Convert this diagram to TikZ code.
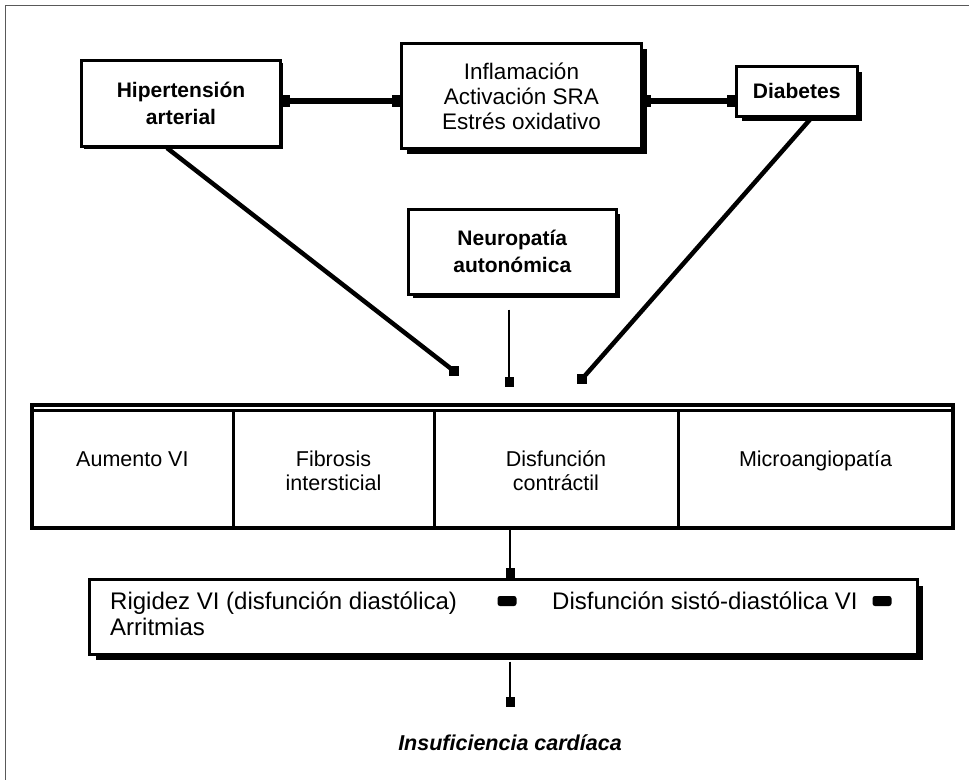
\documentclass[tikz,border=0pt]{standalone}
\usepackage{fontspec}
\setmainfont{Liberation Sans}
\usetikzlibrary{arrows.meta,shadows}

\begin{document}
\begin{tikzpicture}[x=1pt,y=-1pt,
  txt/.style={font={\fontsize{22.5}{25}\selectfont}},
  txtb/.style={font={\fontsize{21}{27}\selectfont\bfseries}},
  txtc/.style={font={\fontsize{21.5}{24}\selectfont}, align=center, anchor=base},
  txtr/.style={font={\fontsize{24}{26}\selectfont}, anchor=base west, inner sep=0pt},
  txtbi/.style={font={\fontsize{21.5}{24}\selectfont\bfseries\itshape}},
  caja/.style={draw, line width=3pt, fill=white, align=center, inner sep=0pt},
  sombra/.style={drop shadow={shadow xshift=#1, shadow yshift=-#1, opacity=1, fill=black}},
  celda/.style={inner sep=0pt},
  blob/.style={fill=black, minimum width=19pt, minimum height=10pt, inner sep=0pt, rounded corners=2.5pt},
  punta/.style={fill=black, minimum size=10pt, inner sep=0pt},
  enlace/.style={line width=6pt, {Square[length=8pt,width=12pt]}-{Square[length=8pt,width=12pt]}},
  diagonal/.style={line width=4.5pt},
  flecha/.style={line width=2.5pt, -{Square[length=10pt,width=9pt]}},
  marco/.style={draw=black!65, line width=1.5pt}
]
\useasboundingbox (0,0) rectangle (969,780);

% page frame (top and left edges)
\draw[marco] (969,5.5) -- (5.5,5.5) -- (5.5,780);

% causes
\node[caja, txtb, sombra=2.5pt, minimum width=199pt, minimum height=86pt] (hip) at (181,103.5) {Hipertensión\\arterial};
\node[caja, txt, sombra=5pt, minimum width=240pt, minimum height=105pt] (infl) at (521.5,96) {Inflamación\\Activación SRA\\Estrés oxidativo};
\node[caja, txtb, sombra=5pt, minimum width=120.5pt, minimum height=49.5pt] (diab) at (796.75,91.25) {Diabetes};
\node[caja, txtb, sombra=4pt, minimum width=207.5pt, minimum height=84.5pt] (neuro) at (512.25,251.75) {Neuropatía\\autonómica};

\coordinate (nivel) at (0,101);
\draw[enlace] (hip.east |- nivel) -- (infl.west |- nivel);
\draw[enlace] (infl.east |- nivel) -- (diab.west |- nivel);

% myocardial changes table
\node[draw, line width=3.5pt, minimum width=921.25pt, minimum height=123.25pt, inner sep=0pt] (tabla) at (492.375,466.375) {};
\node[celda, minimum width=201.25pt, minimum height=117pt] (c1) at (132.375,469.5) {};
\node[celda, minimum width=201pt, minimum height=117pt] (c2) at (333.5,469.5) {};
\node[celda, minimum width=244pt, minimum height=117pt] (c3) at (556,469.5) {};
\node[celda, minimum width=275pt, minimum height=117pt] (c4) at (815.5,469.5) {};
\draw[line width=3pt] (tabla.west |- c1.north) -- (tabla.east |- c1.north);
\draw[line width=3pt] (c1.north east) -- (c1.south east);
\draw[line width=3pt] (c2.north east) -- (c2.south east);
\draw[line width=3pt] (c3.north east) -- (c3.south east);

\node[txtc] (t1) at ([yshift=-56pt]c1.north) {Aumento VI};
\node[txtc] (t2) at ([yshift=-80pt]c2.north) {Fibrosis\\intersticial};
\node[txtc] (t3) at ([yshift=-80pt]c3.north) {Disfunción\\contráctil};
\node[txtc] (t4) at ([yshift=-56pt]c4.north) {Microangiopatía};

% arrows into the table
\node[punta] (p1) at (454,371) {};
\node[punta] (p3) at (582,379) {};
\coordinate (p2) at (509,387);
\draw[diagonal] ([xshift=-14pt]hip.south) -- (p1.center);
\draw[diagonal] ([xshift=15pt]diab.south) -- (p3.center);
\draw[flecha, shorten <=14pt] (neuro.south -| p2) -- (p2);

% consequences
\node[draw, line width=3pt, fill=white, sombra=6pt, minimum width=827.5pt, minimum height=74.5pt, inner sep=0pt] (efectos) at (503.25,616.75) {};
\node[txtr] (r1) at (110,609) {Rigidez VI (disfunción diastólica)};
\node[blob] (b1) at (507,601) {};
\node[txtr] (r2) at (552,609) {Disfunción sistó-diastólica VI};
\node[blob] (b2) at (882,601) {};
\node[txtr] (r3) at (110,635) {Arritmias};

\coordinate (eje) at (510,0);
\draw[flecha] (c3.south -| eje) -- (efectos.north -| eje);

\node[txtbi] (ic) at (510,743) {Insuficiencia cardíaca};
\coordinate (fin) at (510,707);
\draw[flecha, shorten <=6pt] (efectos.south -| eje) -- (fin);

\end{tikzpicture}
\end{document}
